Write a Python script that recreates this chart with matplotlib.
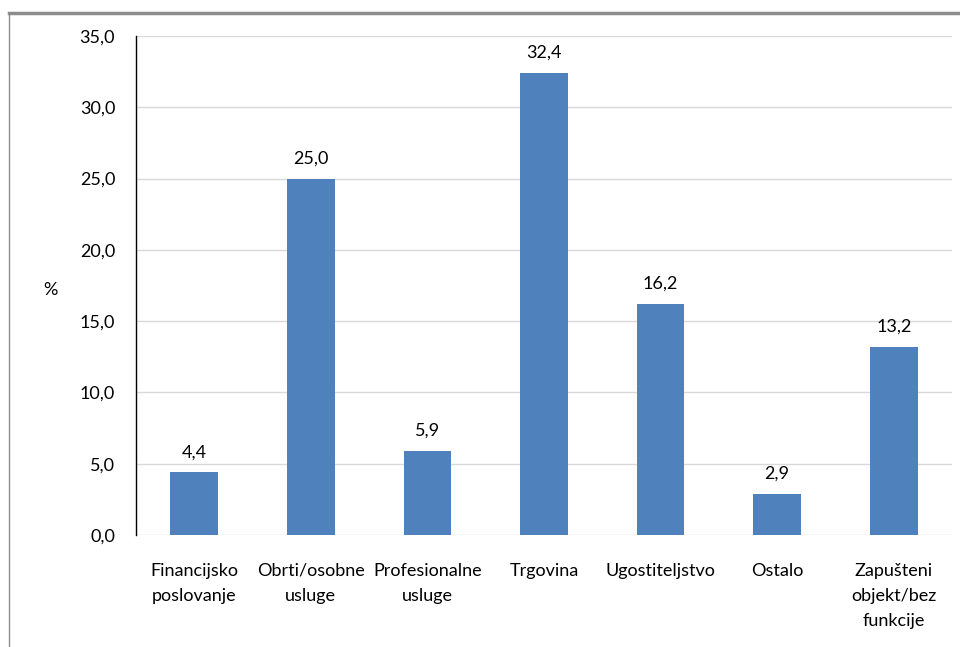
import matplotlib
matplotlib.use("Agg")
import matplotlib.pyplot as plt
from matplotlib.lines import Line2D

categories = ["Financijsko\nposlovanje", "Obrti/osobne\nusluge", "Profesionalne\nusluge",
              "Trgovina", "Ugostiteljstvo", "Ostalo", "Zapušteni\nobjekt/bez\nfunkcije"]
values = [4.4, 25.0, 5.9, 32.4, 16.2, 2.9, 13.2]
yticks = [0, 5, 10, 15, 20, 25, 30, 35]

def fmt(v):
    return f"{v:.1f}".replace(".", ",")

plt.rcParams['font.family'] = ['Lato', 'DejaVu Sans']
FS = 13

fig = plt.figure(figsize=(9.6, 6.47), dpi=100)
ax = fig.add_axes([136/960, 1-535/647, (952-136)/960, (535-36)/647])

x = list(range(len(categories)))
ax.bar(x, values, width=0.41, color="#4F81BD", zorder=3)
for xi, v in zip(x, values):
    ax.text(xi, v + 0.85, fmt(v), ha="center", va="bottom", fontsize=FS, color="black")

ax.set_xlim(-0.5, len(categories) - 0.5)
ax.set_ylim(0, 35)
ax.set_yticks(yticks)
ax.set_yticklabels([fmt(t) for t in yticks], fontsize=FS)
ax.set_xticks(x)
ax.set_xticklabels(categories, fontsize=FS, linespacing=1.72, va="top")
ax.tick_params(axis="y", length=0, pad=15)
ax.tick_params(axis="x", length=0, pad=20)
ax.yaxis.grid(True, color="#D9D9D9", linewidth=1, zorder=0)
for s in ["top", "right", "bottom"]:
    ax.spines[s].set_visible(False)
ax.spines["left"].set_color("black")
ax.spines["left"].set_linewidth(1)

fig.text(50/960, 1-290/647, "%", fontsize=FS, ha="center", va="center")

fig.add_artist(Line2D([9/960, 1], [1-13/647, 1-13/647], color="#8C8C8C", linewidth=2.5, transform=fig.transFigure))
fig.add_artist(Line2D([9/960, 9/960], [0, 1-13/647], color="#8C8C8C", linewidth=1, transform=fig.transFigure))

fig.savefig("out.png", dpi=100)
